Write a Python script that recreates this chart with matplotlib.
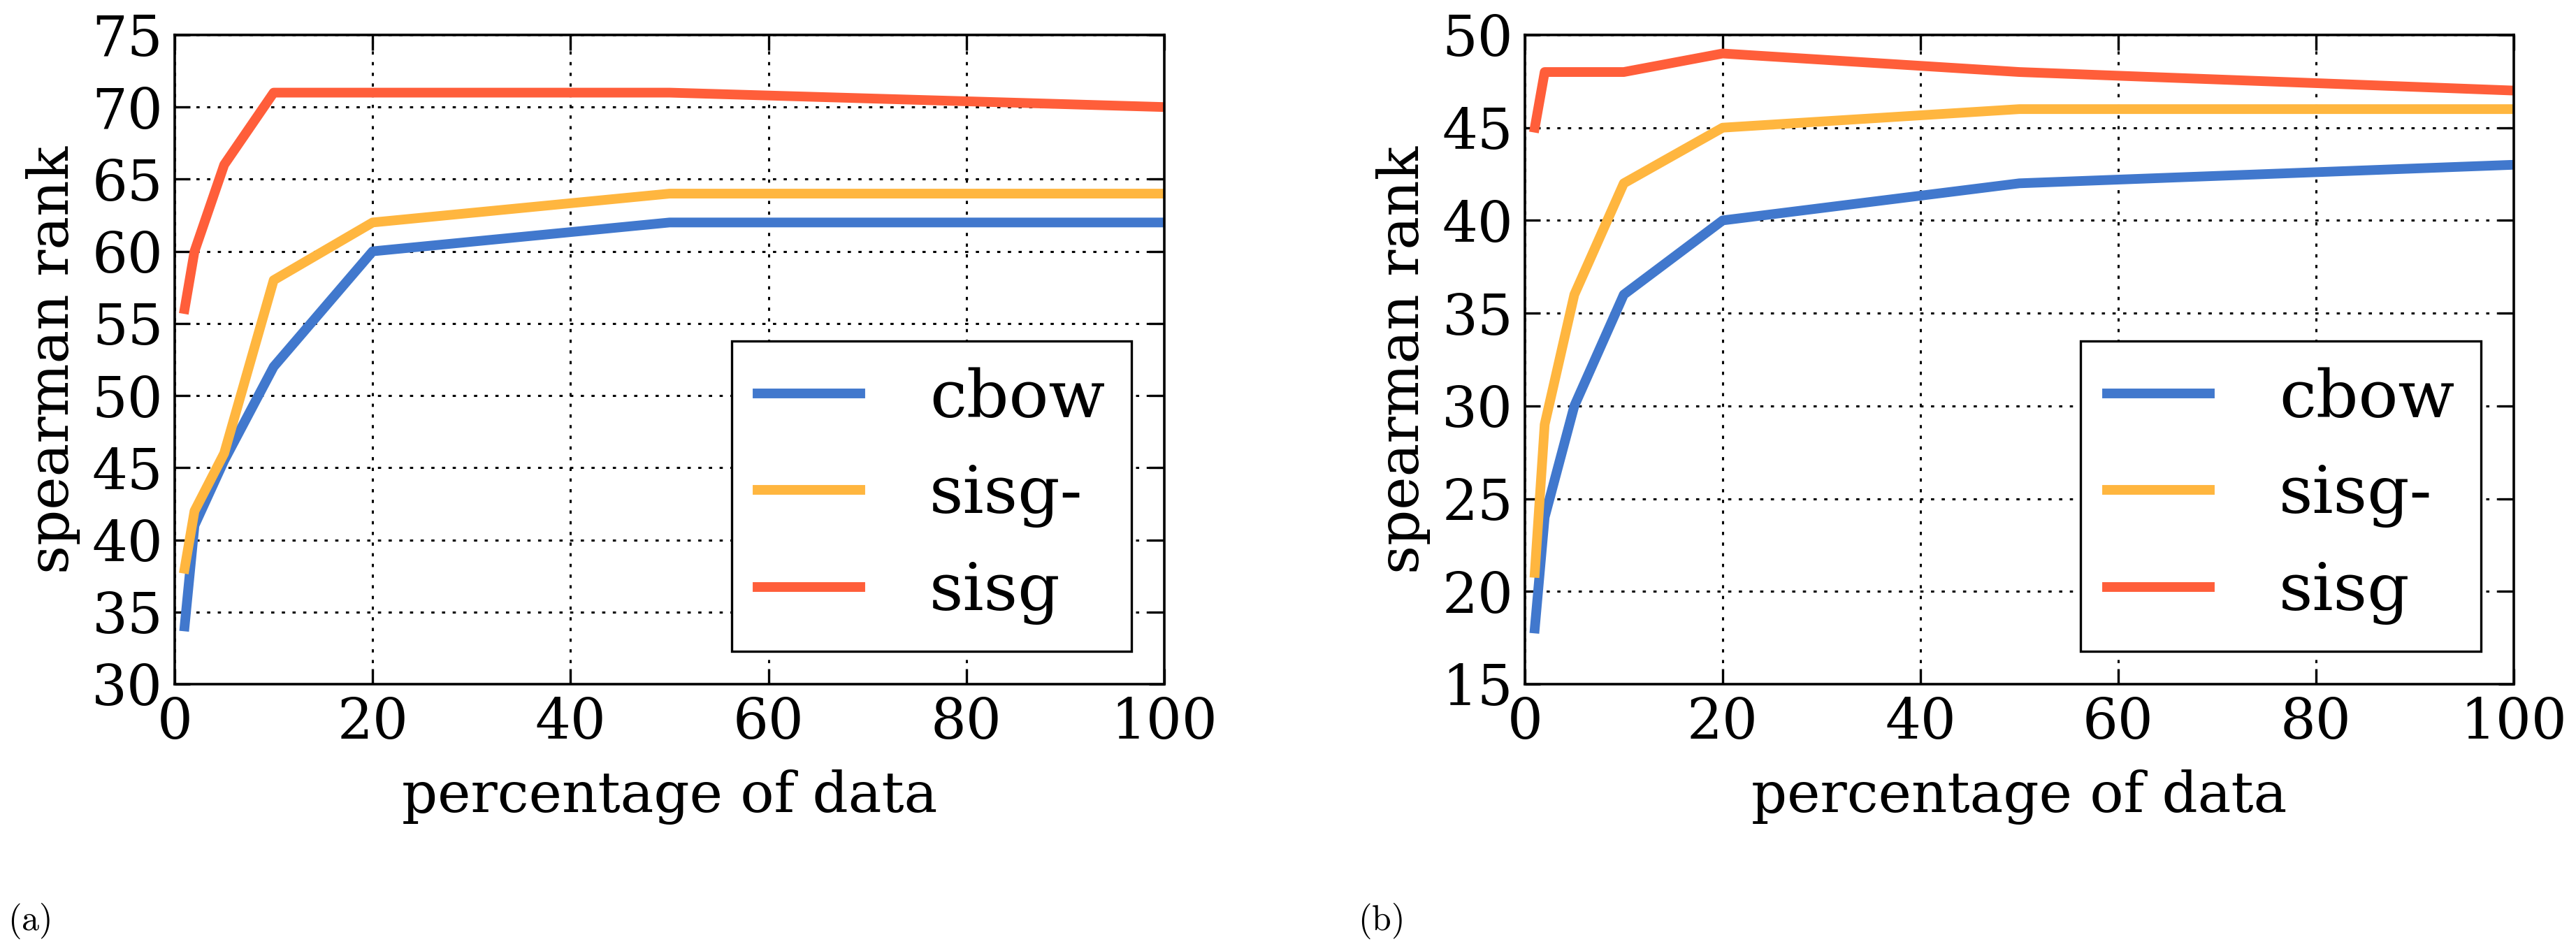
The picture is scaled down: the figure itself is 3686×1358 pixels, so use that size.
import numpy as np
import matplotlib
matplotlib.use("Agg")
import matplotlib.pyplot as plt

# percentage of training data used
pct = [1, 2, 5, 10, 20, 50, 100]

# (a)
cbow_a = [34, 41, 45.5, 52, 60, 62, 62]
sisgm_a = [38, 42, 46, 58, 62, 64, 64]
sisg_a = [56, 60, 66, 71, 71, 71, 70]

# (b)
cbow_b = [18, 24, 30, 36, 40, 42, 43]
sisgm_b = [21, 29, 36, 42, 45, 46, 46]
sisg_b = [45, 48, 48, 48, 49, 48, 47]

names = ['cbow', 'sisg-', 'sisg']
colors = ['#4178CD', '#FFB63F', '#FF5E3A']

plt.rcParams['font.family'] = 'DejaVu Serif'
plt.rcParams['mathtext.fontset'] = 'cm'

fig = plt.figure(figsize=(18.435, 6.79), dpi=200)
ax1 = fig.add_axes([0.0678, 0.2791, 0.3841, 0.6841])
ax2 = fig.add_axes([0.5918, 0.2791, 0.3838, 0.6841])


def draw(ax, series, ylim):
    for ys, name, c in zip(series, names, colors):
        ax.plot(pct, ys, color=c, lw=5, label=name, solid_joinstyle='round')
    ax.set_xlim(0, 100)
    ax.set_ylim(*ylim)
    ax.set_xticks(np.arange(0, 101, 20))
    ax.set_yticks(np.arange(ylim[0], ylim[1] + 1, 5))
    ax.grid(True, color='k', linestyle=(0, (1.5, 3.5)), lw=1.1)
    ax.tick_params(direction='in', top=True, right=True, length=8, width=1.2,
                   labelsize=28.8, pad=6)
    for s in ax.spines.values():
        s.set_linewidth(1.3)
    ax.set_xlabel('percentage of data', fontsize=28.8, labelpad=10)
    ax.set_ylabel('spearman rank', fontsize=28.8, labelpad=6)
    leg = ax.legend(loc='lower right', fontsize=34, handlelength=1.55,
                    handletextpad=1.05, borderpad=0.4, labelspacing=0.5,
                    borderaxespad=0.5, fancybox=False, framealpha=1)
    leg.get_frame().set_edgecolor('k')
    leg.get_frame().set_linewidth(1.2)


draw(ax1, [cbow_a, sisgm_a, sisg_a], (30, 75))
draw(ax2, [cbow_b, sisgm_b, sisg_b], (15, 50))

fig.text(0.003, 0.02, r'$\mathrm{(a)}$', fontsize=18)
fig.text(0.527, 0.02, r'$\mathrm{(b)}$', fontsize=18)

fig.savefig('out.png', dpi=200)
